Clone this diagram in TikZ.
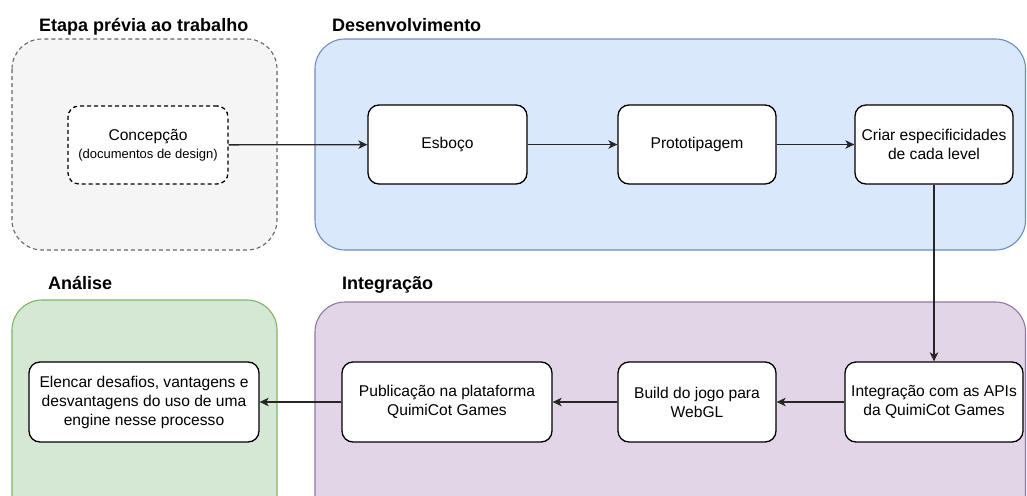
\documentclass[tikz,border=0pt]{standalone}
\usepackage{fontspec}
\setmainfont{Liberation Sans}
\usetikzlibrary{arrows.meta}
\definecolor{grayfill}{HTML}{F5F5F5}
\definecolor{graystroke}{HTML}{666666}
\definecolor{bluefill}{HTML}{DAE8FC}
\definecolor{bluestroke}{HTML}{6C8EBF}
\definecolor{greenfill}{HTML}{D5E8D4}
\definecolor{greenstroke}{HTML}{82B366}
\definecolor{purplefill}{HTML}{E1D5E7}
\definecolor{purplestroke}{HTML}{9673A6}
\tikzset{
  container/.style={line width=1.1pt, rounded corners=30pt},
  title/.style={anchor=base west, inner sep=0pt, font=\fontsize{18}{21}\selectfont\bfseries},
  stepbox/.style={draw=black, fill=white, line width=1.3pt, rounded corners=11pt,
    align=center, inner sep=2pt, font=\fontsize{15.6}{19}\selectfont},
  flow/.style={line width=1.3pt, draw=black!85, -{Stealth[length=9pt,width=8.5pt,inset=2.5pt]}}
}
\begin{document}
\begin{tikzpicture}[x=1pt,y=-1pt]
\useasboundingbox (0,0) rectangle (1027,495);
\clip (0,0) rectangle (1027,495);
% containers
\draw[container, fill=grayfill, draw=graystroke, dash pattern=on 4pt off 3pt] (12,39) rectangle (277,250);
\draw[container, fill=bluefill, draw=bluestroke] (315,39) rectangle (1025.5,250);
\draw[container, fill=greenfill, draw=greenstroke] (12,300) rectangle (277,530);
\draw[container, fill=purplefill, draw=purplestroke] (315,302) rectangle (1025.5,530);
% titles
\node[title] (t1) at (39,32) {Etapa prévia ao trabalho};
\node[title] (t2) at (332,32) {Desenvolvimento};
\node[title] (t3) at (48,289) {Análise};
\node[title] (t4) at (342,289) {Integração};
% nodes
\node[stepbox, dash pattern=on 4pt off 3pt, minimum width=160pt, minimum height=78pt] (conc) at (148,145)
  {Concepção\\[-1pt]{\fontsize{13}{16}\selectfont (documentos de design)}};
\node[stepbox, minimum width=159pt, minimum height=79pt] (esb) at (447.5,144.5) {Esboço};
\node[stepbox, minimum width=158pt, minimum height=79pt] (proto) at (697,144.5) {Prototipagem};
\node[stepbox, minimum width=158pt, minimum height=79pt] (criar) at (934,144.5) {Criar especificidades\\de cada level};
\node[stepbox, minimum width=178pt, minimum height=80pt] (apis) at (934,402) {Integração com as APIs\\da QuimiCot Games};
\node[stepbox, minimum width=158pt, minimum height=80pt] (build) at (697,402) {Build do jogo para\\WebGL};
\node[stepbox, minimum width=210pt, minimum height=80pt] (pub) at (447,402) {Publicação na plataforma\\QuimiCot Games};
\node[stepbox, minimum width=230pt, minimum height=80pt] (elen) at (144,402) {Elencar desafios, vantagens e\\desvantagens do uso de uma\\engine nesse processo};
% connectors
\draw[flow] (conc) -- (esb);
\draw[flow] (esb) -- (proto);
\draw[flow] (proto) -- (criar);
\draw[flow] (criar) -- (apis);
\draw[flow] (apis) -- (build);
\draw[flow] (build) -- (pub);
\draw[flow] (pub) -- (elen);
\end{tikzpicture}
\end{document}
